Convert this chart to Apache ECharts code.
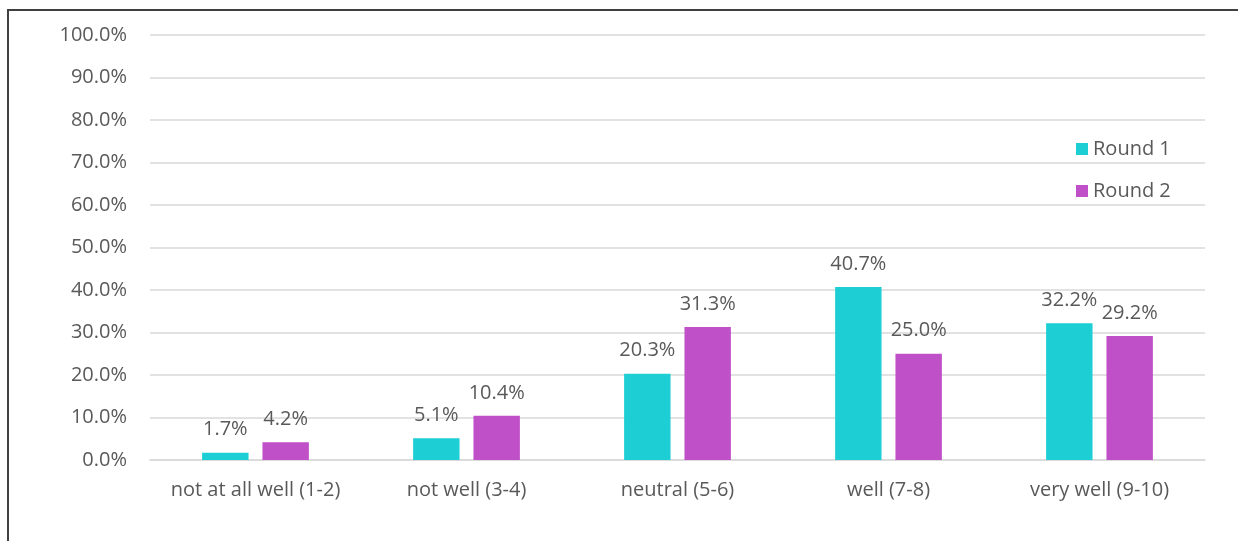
<!DOCTYPE html>
<html>
<head>
<meta charset="utf-8">
<script src="https://cdn.jsdelivr.net/npm/echarts@6/dist/echarts.min.js"></script>
<style>
  html, body { margin: 0; padding: 0; background: #fff; }
  #chart { width: 1238px; height: 541px; position: relative; }
  #frame {
    position: absolute; left: 7px; top: 9px; width: 1300px; height: 600px;
    border-left: 2px solid #404040; border-top: 2px solid #404040;
    box-sizing: border-box; pointer-events: none;
  }
</style>
</head>
<body>
<div id="chart"></div>
<div id="frame"></div>
<script>
// Rating categories along the x axis
const categories = ['not at all well (1-2)', 'not well (3-4)', 'neutral (5-6)', 'well (7-8)', 'very well (9-10)'];
// Share of responses per category, in percent
const round1 = [1.7, 5.1, 20.3, 40.7, 32.2];
const round2 = [4.2, 10.4, 31.3, 25.0, 29.2];
const seriesNames = ['Round 1', 'Round 2'];

const FONT = 'Open Sans';
const TEXT = '#595959';
const pct = v => Number(v).toFixed(1) + '%';

const chart = echarts.init(document.getElementById('chart'), null, { renderer: 'canvas' });

const labelCfg = {
  show: true,
  position: 'top',
  distance: 13,
  color: TEXT,
  fontFamily: FONT,
  fontSize: 20,
  formatter: p => pct(p.value)
};

chart.setOption({
  backgroundColor: '#ffffff',
  animation: false,
  grid: { left: 150, right: 33, top: 35, bottom: 81, containLabel: false },
  legend: {
    orient: 'vertical',
    left: 1071,
    top: 134,
    itemWidth: 12,
    itemHeight: 12,
    itemGap: 22,
    icon: 'rect',
    textStyle: { color: TEXT, fontFamily: FONT, fontSize: 20 },
    data: seriesNames
  },
  xAxis: {
    type: 'category',
    data: categories,
    axisTick: { show: false },
    axisLine: { show: true, lineStyle: { color: '#d9d9d9', width: 1.5 } },
    axisLabel: { interval: 0, hideOverlap: false, color: TEXT, fontFamily: FONT, fontSize: 20, margin: 20 }
  },
  yAxis: {
    type: 'value',
    min: 0,
    max: 100,
    interval: 10,
    axisLine: { show: false },
    axisTick: { show: false },
    axisLabel: { color: TEXT, fontFamily: FONT, fontSize: 20, margin: 23, formatter: v => pct(v) },
    splitLine: { lineStyle: { color: '#d9d9d9', width: 1.5 } }
  },
  series: [
    {
      name: seriesNames[0],
      type: 'bar',
      data: round1,
      barWidth: '22%',
      barGap: '30%',
      itemStyle: { color: '#1dcfd4' },
      label: labelCfg
    },
    {
      name: seriesNames[1],
      type: 'bar',
      data: round2,
      barWidth: '22%',
      itemStyle: { color: '#c050c8' },
      label: labelCfg
    }
  ]
});
</script>
</body>
</html>
